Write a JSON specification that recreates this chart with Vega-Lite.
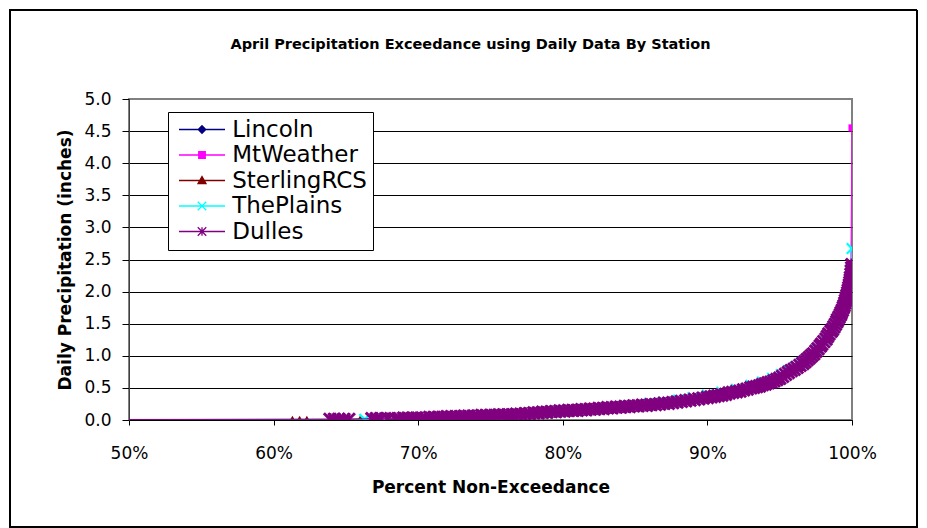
{
  "$schema": "https://vega.github.io/schema/vega-lite/v6.json",
  "width": 723,
  "height": 321,
  "autosize": {"type": "none"},
  "padding": {"left": 129, "top": 99, "right": 75, "bottom": 108},
  "background": "#ffffff",
  "title": {
    "text": "April Precipitation Exceedance using Daily Data By Station",
    "font": "DejaVu Sans",
    "fontSize": 14.5,
    "fontWeight": "bold",
    "color": "#000000",
    "anchor": "middle",
    "frame": "group",
    "offset": -43,
    "dx": -20
  },
  "data": {
    "values": [
      {"s": "Lincoln", "p": 0, "v": 0},
      {"s": "Lincoln", "p": 0.685, "v": 0.01},
      {"s": "Lincoln", "p": 0.71, "v": 0.02},
      {"s": "Lincoln", "p": 0.73, "v": 0.03},
      {"s": "Lincoln", "p": 0.745, "v": 0.05},
      {"s": "Lincoln", "p": 0.765, "v": 0.07},
      {"s": "Lincoln", "p": 0.785, "v": 0.09},
      {"s": "Lincoln", "p": 0.805, "v": 0.13},
      {"s": "Lincoln", "p": 0.83, "v": 0.17},
      {"s": "Lincoln", "p": 0.855, "v": 0.21},
      {"s": "Lincoln", "p": 0.88, "v": 0.29},
      {"s": "Lincoln", "p": 0.9, "v": 0.34},
      {"s": "Lincoln", "p": 0.92, "v": 0.43},
      {"s": "Lincoln", "p": 0.935, "v": 0.5},
      {"s": "Lincoln", "p": 0.95, "v": 0.62},
      {"s": "Lincoln", "p": 0.96, "v": 0.77},
      {"s": "Lincoln", "p": 0.97, "v": 0.93},
      {"s": "Lincoln", "p": 0.978, "v": 1.1},
      {"s": "Lincoln", "p": 0.985, "v": 1.32},
      {"s": "Lincoln", "p": 0.99, "v": 1.52},
      {"s": "Lincoln", "p": 0.994, "v": 1.72},
      {"s": "Lincoln", "p": 0.997, "v": 1.95},
      {"s": "Lincoln", "p": 0.9985, "v": 2.12},
      {"s": "Lincoln", "p": 0.9993, "v": 2.35},
      {"s": "MtWeather", "p": 0, "v": 0},
      {"s": "MtWeather", "p": 0.675, "v": 0.01},
      {"s": "MtWeather", "p": 0.7, "v": 0.03},
      {"s": "MtWeather", "p": 0.725, "v": 0.05},
      {"s": "MtWeather", "p": 0.75, "v": 0.07},
      {"s": "MtWeather", "p": 0.775, "v": 0.1},
      {"s": "MtWeather", "p": 0.8, "v": 0.14},
      {"s": "MtWeather", "p": 0.825, "v": 0.18},
      {"s": "MtWeather", "p": 0.85, "v": 0.22},
      {"s": "MtWeather", "p": 0.875, "v": 0.28},
      {"s": "MtWeather", "p": 0.9, "v": 0.36},
      {"s": "MtWeather", "p": 0.92, "v": 0.45},
      {"s": "MtWeather", "p": 0.935, "v": 0.53},
      {"s": "MtWeather", "p": 0.95, "v": 0.66},
      {"s": "MtWeather", "p": 0.96, "v": 0.8},
      {"s": "MtWeather", "p": 0.967, "v": 0.9},
      {"s": "MtWeather", "p": 0.971, "v": 0.98},
      {"s": "MtWeather", "p": 0.974, "v": 1.05},
      {"s": "MtWeather", "p": 0.979, "v": 1.15},
      {"s": "MtWeather", "p": 0.984, "v": 1.3},
      {"s": "MtWeather", "p": 0.988, "v": 1.45},
      {"s": "MtWeather", "p": 0.992, "v": 1.64},
      {"s": "MtWeather", "p": 0.995, "v": 1.85},
      {"s": "MtWeather", "p": 0.9975, "v": 2.05},
      {"s": "MtWeather", "p": 0.9992, "v": 2.4},
      {"s": "MtWeather", "p": 1.0, "v": 4.55},
      {"s": "SterlingRCS", "p": 0, "v": 0},
      {"s": "SterlingRCS", "p": 0.613, "v": 0.01},
      {"s": "SterlingRCS", "p": 0.618, "v": 0.01},
      {"s": "SterlingRCS", "p": 0.623, "v": 0.01},
      {"s": "SterlingRCS", "p": 0.66, "v": 0.02},
      {"s": "SterlingRCS", "p": 0.68, "v": 0.03},
      {"s": "SterlingRCS", "p": 0.701, "v": 0.04},
      {"s": "SterlingRCS", "p": 0.734, "v": 0.07},
      {"s": "SterlingRCS", "p": 0.755, "v": 0.08},
      {"s": "SterlingRCS", "p": 0.779, "v": 0.1},
      {"s": "SterlingRCS", "p": 0.788, "v": 0.11},
      {"s": "SterlingRCS", "p": 0.81, "v": 0.15},
      {"s": "SterlingRCS", "p": 0.835, "v": 0.19},
      {"s": "SterlingRCS", "p": 0.86, "v": 0.24},
      {"s": "SterlingRCS", "p": 0.885, "v": 0.29},
      {"s": "SterlingRCS", "p": 0.91, "v": 0.4},
      {"s": "SterlingRCS", "p": 0.93, "v": 0.49},
      {"s": "SterlingRCS", "p": 0.95, "v": 0.63},
      {"s": "SterlingRCS", "p": 0.965, "v": 0.82},
      {"s": "SterlingRCS", "p": 0.975, "v": 1.02},
      {"s": "SterlingRCS", "p": 0.983, "v": 1.26},
      {"s": "SterlingRCS", "p": 0.99, "v": 1.5},
      {"s": "SterlingRCS", "p": 0.995, "v": 1.8},
      {"s": "SterlingRCS", "p": 0.998, "v": 2.05},
      {"s": "SterlingRCS", "p": 0.9995, "v": 2.3},
      {"s": "ThePlains", "p": 0, "v": 0},
      {"s": "ThePlains", "p": 0.663, "v": 0.01},
      {"s": "ThePlains", "p": 0.679, "v": 0.02},
      {"s": "ThePlains", "p": 0.695, "v": 0.03},
      {"s": "ThePlains", "p": 0.71, "v": 0.04},
      {"s": "ThePlains", "p": 0.725, "v": 0.05},
      {"s": "ThePlains", "p": 0.74, "v": 0.06},
      {"s": "ThePlains", "p": 0.755, "v": 0.08},
      {"s": "ThePlains", "p": 0.77, "v": 0.09},
      {"s": "ThePlains", "p": 0.785, "v": 0.12},
      {"s": "ThePlains", "p": 0.8, "v": 0.14},
      {"s": "ThePlains", "p": 0.815, "v": 0.17},
      {"s": "ThePlains", "p": 0.83, "v": 0.19},
      {"s": "ThePlains", "p": 0.845, "v": 0.22},
      {"s": "ThePlains", "p": 0.86, "v": 0.26},
      {"s": "ThePlains", "p": 0.87, "v": 0.28},
      {"s": "ThePlains", "p": 0.88, "v": 0.31},
      {"s": "ThePlains", "p": 0.89, "v": 0.35},
      {"s": "ThePlains", "p": 0.9, "v": 0.39},
      {"s": "ThePlains", "p": 0.91, "v": 0.43},
      {"s": "ThePlains", "p": 0.92, "v": 0.48},
      {"s": "ThePlains", "p": 0.93, "v": 0.54},
      {"s": "ThePlains", "p": 0.938, "v": 0.59},
      {"s": "ThePlains", "p": 0.945, "v": 0.65},
      {"s": "ThePlains", "p": 0.951, "v": 0.71},
      {"s": "ThePlains", "p": 0.956, "v": 0.77},
      {"s": "ThePlains", "p": 0.961, "v": 0.83},
      {"s": "ThePlains", "p": 0.965, "v": 0.89},
      {"s": "ThePlains", "p": 0.969, "v": 0.95},
      {"s": "ThePlains", "p": 0.9725, "v": 1.02},
      {"s": "ThePlains", "p": 0.976, "v": 1.1},
      {"s": "ThePlains", "p": 0.979, "v": 1.17},
      {"s": "ThePlains", "p": 0.982, "v": 1.25},
      {"s": "ThePlains", "p": 0.9845, "v": 1.33},
      {"s": "ThePlains", "p": 0.987, "v": 1.42},
      {"s": "ThePlains", "p": 0.989, "v": 1.5},
      {"s": "ThePlains", "p": 0.991, "v": 1.59},
      {"s": "ThePlains", "p": 0.9925, "v": 1.67},
      {"s": "ThePlains", "p": 0.994, "v": 1.76},
      {"s": "ThePlains", "p": 0.9955, "v": 1.86},
      {"s": "ThePlains", "p": 0.9968, "v": 1.97},
      {"s": "ThePlains", "p": 0.9978, "v": 2.08},
      {"s": "ThePlains", "p": 0.9988, "v": 2.22},
      {"s": "ThePlains", "p": 0.9996, "v": 2.36},
      {"s": "ThePlains", "p": 1.0, "v": 2.67},
      {"s": "Dulles", "p": 0, "v": 0},
      {"s": "Dulles", "p": 0.639, "v": 0.01},
      {"s": "Dulles", "p": 0.642, "v": 0.01},
      {"s": "Dulles", "p": 0.645, "v": 0.01},
      {"s": "Dulles", "p": 0.6485, "v": 0.01},
      {"s": "Dulles", "p": 0.652, "v": 0.01},
      {"s": "Dulles", "p": 0.668, "v": 0.02},
      {"s": "Dulles", "p": 0.671, "v": 0.02},
      {"s": "Dulles", "p": 0.674, "v": 0.02},
      {"s": "Dulles", "p": 0.679, "v": 0.02},
      {"s": "Dulles", "p": 0.684, "v": 0.02},
      {"s": "Dulles", "p": 0.687, "v": 0.02},
      {"s": "Dulles", "p": 0.69, "v": 0.03},
      {"s": "Dulles", "p": 0.693, "v": 0.03},
      {"s": "Dulles", "p": 0.696, "v": 0.03},
      {"s": "Dulles", "p": 0.699, "v": 0.03},
      {"s": "Dulles", "p": 0.702, "v": 0.03},
      {"s": "Dulles", "p": 0.705, "v": 0.03},
      {"s": "Dulles", "p": 0.708, "v": 0.04},
      {"s": "Dulles", "p": 0.711, "v": 0.04},
      {"s": "Dulles", "p": 0.714, "v": 0.04},
      {"s": "Dulles", "p": 0.717, "v": 0.04},
      {"s": "Dulles", "p": 0.72, "v": 0.05},
      {"s": "Dulles", "p": 0.723, "v": 0.05},
      {"s": "Dulles", "p": 0.726, "v": 0.05},
      {"s": "Dulles", "p": 0.729, "v": 0.05},
      {"s": "Dulles", "p": 0.732, "v": 0.06},
      {"s": "Dulles", "p": 0.735, "v": 0.06},
      {"s": "Dulles", "p": 0.738, "v": 0.06},
      {"s": "Dulles", "p": 0.741, "v": 0.06},
      {"s": "Dulles", "p": 0.744, "v": 0.07},
      {"s": "Dulles", "p": 0.747, "v": 0.07},
      {"s": "Dulles", "p": 0.75, "v": 0.07},
      {"s": "Dulles", "p": 0.753, "v": 0.07},
      {"s": "Dulles", "p": 0.756, "v": 0.08},
      {"s": "Dulles", "p": 0.759, "v": 0.08},
      {"s": "Dulles", "p": 0.762, "v": 0.08},
      {"s": "Dulles", "p": 0.765, "v": 0.08},
      {"s": "Dulles", "p": 0.768, "v": 0.09},
      {"s": "Dulles", "p": 0.771, "v": 0.09},
      {"s": "Dulles", "p": 0.774, "v": 0.1},
      {"s": "Dulles", "p": 0.777, "v": 0.1},
      {"s": "Dulles", "p": 0.78, "v": 0.11},
      {"s": "Dulles", "p": 0.783, "v": 0.11},
      {"s": "Dulles", "p": 0.786, "v": 0.12},
      {"s": "Dulles", "p": 0.789, "v": 0.12},
      {"s": "Dulles", "p": 0.792, "v": 0.13},
      {"s": "Dulles", "p": 0.795, "v": 0.13},
      {"s": "Dulles", "p": 0.798, "v": 0.14},
      {"s": "Dulles", "p": 0.801, "v": 0.14},
      {"s": "Dulles", "p": 0.804, "v": 0.15},
      {"s": "Dulles", "p": 0.807, "v": 0.15},
      {"s": "Dulles", "p": 0.81, "v": 0.15},
      {"s": "Dulles", "p": 0.813, "v": 0.16},
      {"s": "Dulles", "p": 0.816, "v": 0.16},
      {"s": "Dulles", "p": 0.819, "v": 0.17},
      {"s": "Dulles", "p": 0.822, "v": 0.17},
      {"s": "Dulles", "p": 0.825, "v": 0.18},
      {"s": "Dulles", "p": 0.828, "v": 0.18},
      {"s": "Dulles", "p": 0.831, "v": 0.19},
      {"s": "Dulles", "p": 0.834, "v": 0.19},
      {"s": "Dulles", "p": 0.837, "v": 0.2},
      {"s": "Dulles", "p": 0.84, "v": 0.2},
      {"s": "Dulles", "p": 0.843, "v": 0.21},
      {"s": "Dulles", "p": 0.846, "v": 0.21},
      {"s": "Dulles", "p": 0.849, "v": 0.22},
      {"s": "Dulles", "p": 0.852, "v": 0.22},
      {"s": "Dulles", "p": 0.855, "v": 0.23},
      {"s": "Dulles", "p": 0.858, "v": 0.23},
      {"s": "Dulles", "p": 0.861, "v": 0.24},
      {"s": "Dulles", "p": 0.864, "v": 0.24},
      {"s": "Dulles", "p": 0.867, "v": 0.25},
      {"s": "Dulles", "p": 0.87, "v": 0.26},
      {"s": "Dulles", "p": 0.873, "v": 0.26},
      {"s": "Dulles", "p": 0.876, "v": 0.27},
      {"s": "Dulles", "p": 0.879, "v": 0.28},
      {"s": "Dulles", "p": 0.882, "v": 0.29},
      {"s": "Dulles", "p": 0.885, "v": 0.3},
      {"s": "Dulles", "p": 0.888, "v": 0.31},
      {"s": "Dulles", "p": 0.891, "v": 0.32},
      {"s": "Dulles", "p": 0.894, "v": 0.33},
      {"s": "Dulles", "p": 0.897, "v": 0.34},
      {"s": "Dulles", "p": 0.9, "v": 0.35},
      {"s": "Dulles", "p": 0.9025, "v": 0.36},
      {"s": "Dulles", "p": 0.905, "v": 0.37},
      {"s": "Dulles", "p": 0.9075, "v": 0.38},
      {"s": "Dulles", "p": 0.91, "v": 0.39},
      {"s": "Dulles", "p": 0.9125, "v": 0.4},
      {"s": "Dulles", "p": 0.915, "v": 0.42},
      {"s": "Dulles", "p": 0.9175, "v": 0.43},
      {"s": "Dulles", "p": 0.92, "v": 0.44},
      {"s": "Dulles", "p": 0.9225, "v": 0.45},
      {"s": "Dulles", "p": 0.925, "v": 0.47},
      {"s": "Dulles", "p": 0.9275, "v": 0.48},
      {"s": "Dulles", "p": 0.93, "v": 0.5},
      {"s": "Dulles", "p": 0.932, "v": 0.51},
      {"s": "Dulles", "p": 0.934, "v": 0.52},
      {"s": "Dulles", "p": 0.936, "v": 0.53},
      {"s": "Dulles", "p": 0.938, "v": 0.55},
      {"s": "Dulles", "p": 0.94, "v": 0.56},
      {"s": "Dulles", "p": 0.942, "v": 0.58},
      {"s": "Dulles", "p": 0.944, "v": 0.59},
      {"s": "Dulles", "p": 0.946, "v": 0.61},
      {"s": "Dulles", "p": 0.948, "v": 0.63},
      {"s": "Dulles", "p": 0.95, "v": 0.65},
      {"s": "Dulles", "p": 0.952, "v": 0.68},
      {"s": "Dulles", "p": 0.954, "v": 0.71},
      {"s": "Dulles", "p": 0.956, "v": 0.74},
      {"s": "Dulles", "p": 0.958, "v": 0.77},
      {"s": "Dulles", "p": 0.96, "v": 0.79},
      {"s": "Dulles", "p": 0.962, "v": 0.82},
      {"s": "Dulles", "p": 0.964, "v": 0.85},
      {"s": "Dulles", "p": 0.966, "v": 0.88},
      {"s": "Dulles", "p": 0.9675, "v": 0.91},
      {"s": "Dulles", "p": 0.969, "v": 0.94},
      {"s": "Dulles", "p": 0.9705, "v": 0.97},
      {"s": "Dulles", "p": 0.972, "v": 1.0},
      {"s": "Dulles", "p": 0.9735, "v": 1.03},
      {"s": "Dulles", "p": 0.975, "v": 1.07},
      {"s": "Dulles", "p": 0.9765, "v": 1.11},
      {"s": "Dulles", "p": 0.978, "v": 1.15},
      {"s": "Dulles", "p": 0.979, "v": 1.18},
      {"s": "Dulles", "p": 0.9805, "v": 1.22},
      {"s": "Dulles", "p": 0.982, "v": 1.26},
      {"s": "Dulles", "p": 0.983, "v": 1.3},
      {"s": "Dulles", "p": 0.984, "v": 1.34},
      {"s": "Dulles", "p": 0.9855, "v": 1.38},
      {"s": "Dulles", "p": 0.9865, "v": 1.41},
      {"s": "Dulles", "p": 0.9875, "v": 1.45},
      {"s": "Dulles", "p": 0.9885, "v": 1.49},
      {"s": "Dulles", "p": 0.9895, "v": 1.53},
      {"s": "Dulles", "p": 0.99, "v": 1.56},
      {"s": "Dulles", "p": 0.991, "v": 1.6},
      {"s": "Dulles", "p": 0.992, "v": 1.64},
      {"s": "Dulles", "p": 0.9925, "v": 1.67},
      {"s": "Dulles", "p": 0.9933, "v": 1.71},
      {"s": "Dulles", "p": 0.994, "v": 1.75},
      {"s": "Dulles", "p": 0.9945, "v": 1.78},
      {"s": "Dulles", "p": 0.995, "v": 1.82},
      {"s": "Dulles", "p": 0.9955, "v": 1.86},
      {"s": "Dulles", "p": 0.996, "v": 1.9},
      {"s": "Dulles", "p": 0.9965, "v": 1.94},
      {"s": "Dulles", "p": 0.997, "v": 1.98},
      {"s": "Dulles", "p": 0.9974, "v": 2.02},
      {"s": "Dulles", "p": 0.9978, "v": 2.06},
      {"s": "Dulles", "p": 0.9982, "v": 2.1},
      {"s": "Dulles", "p": 0.9985, "v": 2.14},
      {"s": "Dulles", "p": 0.9988, "v": 2.18},
      {"s": "Dulles", "p": 0.999, "v": 2.22},
      {"s": "Dulles", "p": 0.9993, "v": 2.27},
      {"s": "Dulles", "p": 0.9995, "v": 2.32},
      {"s": "Dulles", "p": 0.9998, "v": 2.37},
      {"s": "Dulles", "p": 1.0, "v": 2.42}
    ]
  },
  "encoding": {
    "x": {
      "field": "p",
      "type": "quantitative",
      "scale": {"domain": [0.5, 1], "nice": false, "zero": false},
      "axis": {
        "title": "Percent Non-Exceedance",
        "format": ".0%",
        "values": [0.5, 0.6, 0.7, 0.8, 0.9, 1.0],
        "grid": false,
        "labelFlush": false,
        "tickSize": 5,
        "tickColor": "#000000",
        "domainColor": "#000000",
        "labelPadding": 20,
        "labelFont": "DejaVu Sans",
        "labelFontSize": 17,
        "labelColor": "#000000",
        "titleFont": "DejaVu Sans",
        "titleFontSize": 17,
        "titleFontWeight": "bold",
        "titleColor": "#000000",
        "titlePadding": 18
      }
    },
    "y": {
      "field": "v",
      "type": "quantitative",
      "scale": {"domain": [0, 5], "nice": false, "zero": true},
      "axis": {
        "title": "Daily Precipitation (inches)",
        "format": ".1f",
        "values": [0, 0.5, 1, 1.5, 2, 2.5, 3, 3.5, 4, 4.5, 5],
        "grid": true,
        "gridColor": "#000000",
        "gridWidth": 1,
        "gridOpacity": {"condition": {"test": "datum.value === 5", "value": 0}, "value": 1},
        "tickSize": 7,
        "tickColor": "#000000",
        "domainColor": "#404040",
        "labelPadding": 11,
        "labelFont": "DejaVu Sans",
        "labelFontSize": 17,
        "labelColor": "#000000",
        "titleFont": "DejaVu Sans",
        "titleFontSize": 17,
        "titleFontWeight": "bold",
        "titleColor": "#000000",
        "titlePadding": 9
      }
    }
  },
  "layer": [
    {
      "mark": {"type": "rect", "fill": "transparent", "stroke": "#000000", "strokeWidth": 1, "clip": false},
      "encoding": {
        "x": {"datum": 0.4177, "type": "quantitative", "scale": {"domain": [0.5, 1], "nice": false, "zero": false}},
        "x2": {"datum": 1.0449},
        "y": {"datum": 6.386, "type": "quantitative", "scale": {"domain": [0, 5], "nice": false, "zero": true}},
        "y2": {"datum": -1.667}
      }
    },
    {
      "transform": [{"filter": "datum.s === 'Lincoln'"}],
      "mark": {"type": "line", "color": "#000080", "strokeWidth": 1, "clip": true,
        "point": {"shape": "diamond", "filled": true, "size": 60, "color": "#000080"}}
    },
    {
      "transform": [{"filter": "datum.s === 'MtWeather'"}],
      "mark": {"type": "line", "color": "#FF00FF", "strokeWidth": 1, "clip": true,
        "point": {"shape": "square", "filled": true, "size": 50, "color": "#FF00FF"}}
    },
    {
      "transform": [{"filter": "datum.s === 'SterlingRCS'"}],
      "mark": {"type": "line", "color": "#F03030", "strokeWidth": 1, "clip": true,
        "point": {"shape": "triangle-up", "filled": true, "size": 70, "color": "#800000"}}
    },
    {
      "transform": [{"filter": "datum.s === 'ThePlains'"}],
      "mark": {"type": "line", "color": "#00FFFF", "strokeWidth": 1, "clip": true,
        "point": {"shape": "M-1,-1L1,1M-1,1L1,-1", "filled": false, "size": 110, "strokeWidth": 2.2, "color": "#00FFFF"}}
    },
    {
      "transform": [{"filter": "datum.s === 'Dulles'"}],
      "mark": {"type": "line", "strokeWidth": 1, "clip": true,
        "point": {"shape": "M-1,-1L1,1M-1,1L1,-1M0,-1L0,1", "filled": false, "size": 150, "strokeWidth": 3}},
      "encoding": {
        "color": {
          "field": "s",
          "type": "nominal",
          "scale": {
            "domain": ["Lincoln", "MtWeather", "SterlingRCS", "ThePlains", "Dulles"],
            "range": ["#000080", "#FF00FF", "#800000", "#00FFFF", "#800080"]
          },
          "legend": {
            "title": null,
            "orient": "none",
            "legendX": 39,
            "legendY": 13,
            "direction": "vertical",
            "strokeColor": "#000000",
            "fillColor": "#ffffff",
            "padding": 6,
            "cornerRadius": 0,
            "symbolSize": 100,
            "symbolOffset": 16.5,
            "labelOffset": 18.7,
            "rowPadding": 1.5,
            "labelFont": "DejaVu Sans",
            "labelFontSize": 23,
            "labelColor": "#000000",
            "labelLimit": 300,
            "encode": {
              "symbols": {
                "update": {
                  "shape": {"signal": "datum.value==='Lincoln'?'M-4.6,0L4.6,0M0,-0.75L0.75,0L0,0.75L-0.75,0Z':datum.value==='MtWeather'?'M-4.6,0L4.6,0M-0.65,-0.65L0.65,-0.65L0.65,0.65L-0.65,0.65Z':datum.value==='SterlingRCS'?'M-4.6,0L4.6,0M0,-0.8L0.8,0.6L-0.8,0.6Z':datum.value==='ThePlains'?'M-4.6,0L4.6,0M-0.85,-0.85L0.85,0.85M-0.85,0.85L0.85,-0.85':'M-4.6,0L4.6,0M-0.85,-0.85L0.85,0.85M-0.85,0.85L0.85,-0.85M0,-0.85L0,0.85'"},
                  "fill": {"signal": "datum.value==='Lincoln'?'#000080':datum.value==='MtWeather'?'#FF00FF':datum.value==='SterlingRCS'?'#800000':'transparent'"},
                  "stroke": {"signal": "datum.value==='Lincoln'?'#000080':datum.value==='MtWeather'?'#FF00FF':datum.value==='SterlingRCS'?'#A00000':datum.value==='ThePlains'?'#00FFFF':'#800080'"},
                  "strokeWidth": {"value": 1.3},
                  "opacity": {"value": 1}
                }
              }
            }
          }
        }
      }
    }
  ],
  "config": {
    "font": "DejaVu Sans",
    "view": {"stroke": "#808080", "strokeWidth": 2}
  }
}
